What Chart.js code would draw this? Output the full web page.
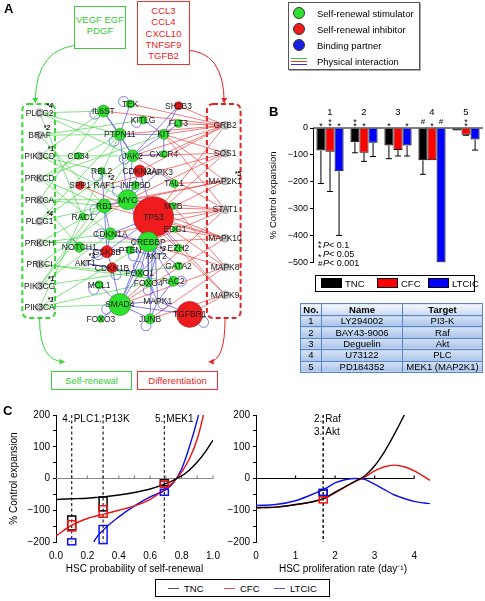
<!DOCTYPE html>
<html>
<head>
<meta charset="utf-8">
<title>Self-renewal network and inhibitor screen</title>
<script src="https://cdn.jsdelivr.net/npm/chart.js@4.4.1/dist/chart.umd.min.js"></script>
<style>
  body { margin: 0; background: #fff; font-family: "Liberation Sans", Arial, sans-serif; }
  #page { position: relative; width: 485px; height: 601px; overflow: hidden; }
  canvas { position: absolute; }
  .panel { position: absolute; font-weight: bold; font-size: 13px; }
  .tbox { position: absolute; box-sizing: border-box; text-align: center; font-size: 9.5px; line-height: 11.3px; background: #fff; }
  #netLegend { position: absolute; left: 288px; top: 2px; width: 132px; height: 68px; box-sizing: border-box;
    border: 1px solid #555; box-shadow: 1px 1px 0 #aaa; background: #fff; font-size: 9.5px; }
  #netLegend .li { position: absolute; left: 28px; white-space: nowrap; }
  #netLegend .dot { position: absolute; left: -24px; top: -1px; width: 12px; height: 12px; border-radius: 50%; border: 1px solid #333; box-sizing: border-box; }
  #netLegend .pi { position: absolute; left: -26px; top: 2px; width: 16px; }
  #netLegend .pi i { display: block; height: 1px; margin-bottom: 2px; }
  #barLegend { position: absolute; left: 315px; top: 275px; width: 160px; height: 17px; box-sizing: border-box; border: 1px solid #000; font-size: 9.5px; }
  #barLegend span { position: absolute; top: 2px; white-space: nowrap; }
  #barLegend b { display: inline-block; width: 21px; height: 10px; border: 1px solid #000; box-sizing: border-box; vertical-align: -1px; margin-right: 3px; }
  #drugTable { position: absolute; left: 300px; top: 303px; width: 183px; border-collapse: collapse; font-size: 9.5px; }
  #drugTable td, #drugTable th { border: 1px solid #5a86c6; padding: 0; height: 10.4px; line-height: 10px; text-align: center;
    background: linear-gradient(#d4e2f5, #a9c3ea); font-weight: normal; }
  #drugTable th { font-weight: bold; background: linear-gradient(#f5f8fd, #c8d9f1); height: 11px; }
  #lineLegend { position: absolute; left: 155px; top: 579px; width: 175px; height: 18px; box-sizing: border-box; border: 1px solid #000; font-size: 9.5px; }
  #lineLegend span { position: absolute; top: 3px; white-space: nowrap; }
  #lineLegend i { display: inline-block; width: 11px; height: 1.5px; vertical-align: 3px; margin-right: 5px; }
</style>
</head>
<body>
<div id="page">
  <canvas id="netChart" width="300" height="395" style="left:0;top:0"></canvas>
  <div class="panel" style="left:4px;top:1px">A</div>
  <div class="tbox" style="left:74px;top:6px;width:52px;height:43px;border:1px solid #3ccf3c;color:#33cc33;padding-top:7px">VEGF EGF<br>PDGF</div>
  <div class="tbox" style="left:137px;top:1px;width:53px;height:64px;border:1px solid #e33;color:#e22;padding-top:3px">CCL3<br>CCL4<br>CXCL10<br>TNFSF9<br>TGFB2</div>
  <div class="tbox" style="left:51px;top:371px;width:81px;height:19px;border:1px solid #3ccf3c;color:#33cc33;padding-top:3px">Self-renewal</div>
  <div class="tbox" style="left:137px;top:371px;width:81px;height:19px;border:1px solid #e33;color:#e22;padding-top:3px">Differentiation</div>
  <div id="netLegend">
    <div class="li" style="top:5px"><span class="dot" style="background:#2fe02f"></span>Self-renewal stimulator</div>
    <div class="li" style="top:21px"><span class="dot" style="background:#ee1c1c"></span>Self-renewal inhibitor</div>
    <div class="li" style="top:37px"><span class="dot" style="background:#1c1ce8"></span>Binding partner</div>
    <div class="li" style="top:53px"><span class="pi"><i style="background:#3c3"></i><i style="background:#e33"></i><i style="background:#33d"></i></span>Physical interaction</div>
  </div>

  <canvas id="barChart" width="223" height="185" style="left:262px;top:85px"></canvas>
  <div class="panel" style="left:269px;top:104px">B</div>
  <div id="barLegend">
    <span style="left:5px"><b style="background:#000"></b>TNC</span>
    <span style="left:61px"><b style="background:#f00"></b>CFC</span>
    <span style="left:112px"><b style="background:#00f"></b>LTCIC</span>
  </div>
  <table id="drugTable"><thead><tr><th style="width:20px">No.</th><th style="width:80px">Name</th><th>Target</th></tr></thead><tbody></tbody></table>

  <canvas id="srChart" width="225" height="180" style="left:0;top:395px"></canvas>
  <canvas id="prChart" width="270" height="180" style="left:215px;top:395px"></canvas>
  <div class="panel" style="left:3px;top:403px">C</div>
  <div id="lineLegend">
    <span style="left:12px"><i style="background:#555"></i>TNC</span>
    <span style="left:68px"><i style="background:#e05050"></i>CFC</span>
    <span style="left:118px"><i style="background:#5a5ad8"></i>LTCIC</span>
  </div>
</div>

<script>
// ---------- Panel A : network (layout units = pixels of the panel) ----------
const leftGenes = ['PLCG2', 'BRAF', 'PIK3CD', 'PRKCD', 'PRKCA', 'PLCG1', 'PRKCH', 'PRKCI', 'PIK3CG', 'PIK3CA'];
const leftGeneY = [103, 128, 151, 176, 200, 224, 248, 272, 296, 320];
const leftGeneMark = ['*4', '*2', '*1', '', '', '*4', '', '', '*1', '*1'];
const rightGenes = ['GRB2', 'SOS1', 'MAP2K1', 'STAT1', 'MAPK10', 'MAPK8', 'MAPK9'];
const rightGeneY = [117, 148, 179, 211, 243, 275, 306];
const rightGeneMark = ['', '', '*5', '', '', '', ''];

const coreGenes = ['IL6ST', 'TEK', 'SH2B3', 'KITLG', 'FLT3', 'PTPN11', 'KIT', 'CD34', 'JAK2', 'CXCR4',
  'RBL2', 'CDKN2A', 'MAPK3', 'SPP1', 'RAF1', 'INPP5D', 'TAL1', 'RB1', 'MYC', 'MYB',
  'TP53', 'RAC1', 'EDG1', 'CDKN1A', 'CREBBP', 'NOTCH1', 'GSK3B', 'PTEN', 'EZH2', 'AKT1',
  'AKT2', 'CDKN1B', 'GATA2', 'FOXO1', 'RAC2', 'FOXO4', 'MCL1', 'SMAD4', 'MAPK1', 'TGFBR1',
  'JUNB', 'FOXO3'];
const coreX = [96, 127, 183, 142, 183, 115, 166, 67, 130, 166,
  94, 138, 160, 69, 97, 133, 178, 97, 124, 177,
  154, 72, 179, 104, 148, 68, 100, 127, 183, 75,
  157, 106, 183, 138, 177, 148, 91, 115, 159, 196,
  150, 93];
const coreY = [101, 93, 95, 111, 115, 127, 127, 151, 151, 149,
  168, 168, 169, 184, 184, 184, 182, 207, 200, 207,
  219, 219, 233, 238, 247, 253, 258, 256, 254, 271,
  263, 276, 274, 282, 291, 293, 295, 317, 313, 328,
  333, 333];
const coreSize = [6, 4, 4, 4, 4, 6, 5, 3.5, 6, 3.5,
  3.5, 6, 3, 4, 3, 4, 4, 7, 10, 3.5,
  20, 3.5, 3, 6, 10, 5, 6, 4, 4, 3,
  3, 5, 4, 4, 5, 4, 4, 11, 3, 13,
  5, 3.5];
// g = stimulator, r = inhibitor, k = binding partner / drug target
const coreKind = ['g', 'g', 'r', 'g', 'g', 'g', 'g', 'g', 'g', 'g',
  'g', 'r', 'k', 'r', 'k', 'g', 'g', 'g', 'g', 'g',
  'r', 'g', 'g', 'g', 'g', 'g', 'r', 'g', 'g', 'k',
  'k', 'r', 'g', 'g', 'g', 'g', 'g', 'g', 'k', 'r',
  'g', 'g'];
const coreMark = { RAF1: '*2', AKT1: '*3', AKT2: '*3' };

const greenEdges = ['PLCG2 IL6ST', 'PLCG2 PTPN11', 'PLCG2 JAK2', 'PLCG2 RAC1', 'BRAF PTPN11', 'BRAF RB1', 'BRAF KITLG',
  'PIK3CD IL6ST', 'PIK3CD JAK2', 'PIK3CD MYC', 'PIK3CD RBL2', 'PRKCD PTPN11', 'PRKCD RB1', 'PRKCD CDKN1A', 'PRKCD KIT',
  'PRKCA RB1', 'PRKCA MYC', 'PRKCA IL6ST', 'PRKCA NOTCH1', 'PLCG1 JAK2', 'PLCG1 RB1', 'PLCG1 PTPN11',
  'PRKCH RB1', 'PRKCH CDKN1A', 'PRKCH CREBBP', 'PRKCI MYC', 'PRKCI FOXO1', 'PRKCI RAC2', 'PIK3CG RB1',
  'PIK3CG CDKN1A', 'PIK3CG JAK2', 'PIK3CG GATA2', 'PIK3CA FOXO4', 'PIK3CA SMAD4', 'PIK3CA PTPN11', 'PIK3CA CREBBP'];
const redEdges = ['GRB2 TEK', 'GRB2 SH2B3', 'GRB2 KIT', 'GRB2 FLT3', 'GRB2 PTPN11', 'GRB2 IL6ST', 'GRB2 JAK2', 'GRB2 CXCR4',
  'GRB2 TP53', 'GRB2 CDKN2A', 'SOS1 KIT', 'SOS1 MYC', 'SOS1 JAK2', 'SOS1 TP53', 'SOS1 RAF1', 'MAP2K1 TP53', 'MAP2K1 MYC',
  'MAP2K1 TAL1', 'MAP2K1 RB1', 'MAP2K1 KIT', 'STAT1 TP53', 'STAT1 MYC', 'STAT1 JAK2', 'STAT1 KIT', 'STAT1 CREBBP',
  'STAT1 SMAD4', 'STAT1 CDKN1A', 'STAT1 RB1', 'MAPK10 TP53', 'MAPK10 MYC', 'MAPK10 CREBBP', 'MAPK10 EDG1',
  'MAPK10 SMAD4', 'MAPK10 RB1', 'MAPK8 TP53', 'MAPK8 MYB', 'MAPK8 JUNB', 'MAPK8 SMAD4', 'MAPK8 CDKN1A',
  'MAPK9 TGFBR1', 'MAPK9 JUNB', 'MAPK9 TP53', 'MAPK9 MYC', 'TP53 SPP1'];
const blueEdges = ['IL6ST PTPN11', 'IL6ST JAK2', 'TEK PTPN11', 'KITLG KIT', 'KIT PTPN11', 'KIT FLT3', 'KIT JAK2',
  'SH2B3 KIT', 'SH2B3 JAK2', 'JAK2 PTPN11', 'JAK2 CXCR4', 'CXCR4 KIT', 'RBL2 RB1', 'CDKN2A TP53', 'CDKN2A MYC',
  'MAPK3 TAL1', 'MAPK3 MYC', 'INPP5D MYC', 'RB1 MYC', 'RB1 CDKN1A', 'MYC TP53', 'MYC CREBBP', 'TP53 CREBBP',
  'TP53 MYB', 'TP53 EZH2', 'TP53 CDKN1A', 'TP53 PTEN', 'TP53 GSK3B', 'TP53 AKT2', 'TP53 MAPK1', 'TP53 SMAD4',
  'TP53 JUNB', 'CREBBP SMAD4', 'CREBBP FOXO1', 'CREBBP FOXO4', 'CREBBP GATA2', 'CREBBP MYB', 'CREBBP RAC2',
  'GSK3B AKT1', 'GSK3B PTEN', 'GSK3B CDKN1B', 'NOTCH1 GSK3B', 'AKT1 CDKN1B', 'AKT2 FOXO1', 'AKT2 FOXO4',
  'AKT1 FOXO1', 'MCL1 SMAD4', 'SMAD4 FOXO3', 'SMAD4 JUNB', 'SMAD4 MAPK1', 'SMAD4 TGFBR1', 'MAPK1 JUNB',
  'MAPK1 FOXO4', 'RAC2 MAPK1', 'PTEN AKT2', 'CDKN1A CREBBP', 'RB1 GSK3B', 'MYB MYC', 'CDKN1A GSK3B',
  'PTPN11 MYC', 'JAK2 MYC', 'FOXO1 SMAD4', 'MAPK1 TGFBR1', 'CDKN1B SMAD4'];
const loopGenes = ['IL6ST', 'TEK', 'KITLG', 'PTPN11', 'JAK2', 'RB1', 'MYC', 'CDKN1A', 'NOTCH1', 'GSK3B', 'CREBBP',
  'SMAD4', 'TGFBR1', 'JUNB', 'FOXO1', 'FOXO4', 'MAPK1', 'RBL2', 'MCL1', 'PTEN', 'RAC2', 'CDKN1B'];
const loopAngle = [200, 160, 200, 230, 200, 200, 140, 180, 160, 200, 320,
  200, 330, 240, 100, 270, 330, 230, 220, 300, 0, 300];

// ---------- Panel B : inhibitor effect on expansion ----------
const drugNumbers = ['1', '2', '3', '4', '5'];
const tncMean = [-84, -53, -65, -120, -9];
const cfcMean = [-88, -92, -82, -120, -25];
const ltcicMean = [-161, -55, -65, -500, -43];
const tncLow = [-206, -92, -114, -172, null];
const cfcLow = [-236, -124, -104, null, -27];
const ltcicLow = [-399, -106, -104, null, -82];
const tncSig = ['*', '**', '*', '#', ''];
const cfcSig = ['**', '*', '', '*', '**'];
const ltcicSig = ['*', '', '*', '#', ''];
const sigKey = ['**', '*', '#'];
const sigText = ['< 0.1', '< 0.05', '< 0.001'];

const drugNames = ['LY294002', 'BAY43-9006', 'Deguelin', 'U73122', 'PD184352'];
const drugTargets = ['PI3-K', 'Raf', 'Akt', 'PLC', 'MEK1 (MAP2K1)'];

// ---------- Panel C : model curves ----------
const srProb = [0, 0.1, 0.2, 0.25, 0.3, 0.4, 0.5, 0.6, 0.7, 0.75, 0.8, 0.85, 0.9, 0.95, 1.0];
const srTNC = [-66, -64, -62, -60, -58, -52, -44, -33, -16, -5, 8, 27, 52, 83, 121];
const srCFC = [-181, -147, -126, -119, -113, -100, -86, -66, -30, -10, 20, 62, 125, 225, 360];
const srLTCIC = [null, null, -250, -192, -163, -121, -86, -58, -35, -12, 30, 100, 185, 290, 420];
const srDrugX = [0.1, 0.3, 0.69];
const srDrugNum = ['4.', '1.', '5.'];
const srDrugName = ['PLC', 'P13K', 'MEK1'];
const srTncLo = [-162, -102, -22], srTncHi = [-118, -58, -4];
const srCfcLo = [-165, -122, -26], srCfcHi = [-133, -86, -9];
const srLtcicLo = [-200, -205, -44], srLtcicHi = [-190, -148, -34];

const prRate = [0, 0.5, 1, 1.5, 1.75, 2, 2.25, 2.5, 2.75, 3, 3.25, 3.5, 3.75, 4, 4.25, 4.4];
const prTNC = [-92, -90, -82, -71, -61, -43, -26, -9, 8, 40, 85, 140, 200, 265, 335, 380];
const prCFC = [-92, -90, -83, -72, -62, -45, -27, -10, 5, 24, 37, 42, 37, 24, 6, -6];
const prLTCIC = [-85, -82, -70, -46, -32, -14, -4, 0, -3, -18, -35, -52, -63, -72, -77, -79];
const prDrugX = [1.7, 1.7];
const prDrugNum = ['2.', '3.'];
const prDrugName = ['Raf', 'Akt'];
const prTncLo = [-44], prTncHi = [-36];
const prCfcLo = [-66], prCfcHi = [-58];
const prLtcicLo = [-42], prLtcicHi = [-34];

const FONT = '"Liberation Sans", Arial, sans-serif';
Chart.defaults.font.family = FONT;
Chart.defaults.color = '#000';
Chart.defaults.animation = false;
Chart.defaults.responsive = false;
Chart.defaults.plugins.legend.display = false;
Chart.defaults.plugins.tooltip.enabled = false;

const fmtNum = v => (v < 0 ? '\u2212' + Math.abs(v) : String(v));
const kindFill = { g: '#2fe02f', r: '#ee1c1c', k: '#c4c4c4' };
const kindLine = { g: '#1f9a1f', r: '#a01010', k: '#999' };

// positions of every gene in the layout
const genePos = {};
leftGenes.forEach((g, i) => { genePos[g] = { x: 22, y: leftGeneY[i], r: 4, kind: 'k', mark: leftGeneMark[i] }; });
rightGenes.forEach((g, i) => { genePos[g] = { x: 237, y: rightGeneY[i], r: 4, kind: 'k', mark: rightGeneMark[i] }; });
coreGenes.forEach((g, i) => {
  genePos[g] = { x: coreX[i], y: coreY[i], r: coreSize[i], kind: coreKind[i], mark: coreMark[g] || '' };
});

function edgeData(list) {
  const pts = [];
  list.forEach(e => {
    const [a, b] = e.split(' ');
    const p = genePos[a], q = genePos[b];
    pts.push({ x: p.x, y: p.y }, { x: q.x, y: q.y }, { x: q.x, y: null });
  });
  return pts;
}

const nodeList = Object.keys(genePos);

const networkDecor = {
  id: 'networkDecor',
  beforeDatasetsDraw(chart) {
    const { ctx, scales: { x, y } } = chart;
    const X = v => x.getPixelForValue(v), Y = v => y.getPixelForValue(v);
    ctx.save();
    // dashed group boxes
    function dashBox(x0, y0, x1, y1, color) {
      ctx.strokeStyle = color; ctx.lineWidth = 2; ctx.setLineDash([5, 3]);
      ctx.beginPath();
      ctx.roundRect(X(x0), Y(y0), X(x1) - X(x0), Y(y1) - Y(y0), 6);
      ctx.stroke();
      ctx.setLineDash([]);
    }
    dashBox(2, 93, 40, 332, '#35d735');
    dashBox(216, 93, 255, 332, '#e52020');
    // curved arrows
    function arrow(x0, y0, cx, cy, x1, y1, color, dir) {
      ctx.strokeStyle = color; ctx.fillStyle = color; ctx.lineWidth = 1;
      ctx.beginPath(); ctx.moveTo(X(x0), Y(y0)); ctx.quadraticCurveTo(X(cx), Y(cy), X(x1), Y(y1)); ctx.stroke();
      const h = 5, w = 3, px = X(x1), py = Y(y1);
      ctx.beginPath();
      if (dir === 'down') { ctx.moveTo(px, py); ctx.lineTo(px - w, py - h); ctx.lineTo(px + w, py - h); }
      if (dir === 'right') { ctx.moveTo(px, py); ctx.lineTo(px - h, py - w); ctx.lineTo(px - h, py + w); }
      if (dir === 'left') { ctx.moveTo(px, py); ctx.lineTo(px + h, py - w); ctx.lineTo(px + h, py + w); }
      ctx.closePath(); ctx.fill();
    }
    arrow(74, 27, 17, 27, 17, 92, '#35d735', 'down');
    arrow(190, 33, 236, 33, 236, 92, '#e52020', 'down');
    arrow(22, 333, 22, 381, 51, 381, '#35d735', 'right');
    arrow(237, 333, 237, 381, 218, 381, '#e52020', 'left');
    // self interaction loops
    ctx.strokeStyle = '#4a4ae0'; ctx.lineWidth = 0.7;
    loopGenes.forEach((g, i) => {
      const p = genePos[g], a = loopAngle[i] * Math.PI / 180, d = p.r + 3;
      ctx.beginPath();
      ctx.arc(X(p.x) + Math.cos(a) * d, Y(p.y) - Math.sin(a) * d, 5, 0, Math.PI * 2);
      ctx.stroke();
    });
    ctx.restore();
  },
  afterDatasetsDraw(chart) {
    const { ctx, scales: { x, y } } = chart;
    ctx.save();
    ctx.textAlign = 'center'; ctx.textBaseline = 'middle';
    nodeList.forEach(g => {
      const p = genePos[g];
      const px = x.getPixelForValue(p.x), py = y.getPixelForValue(p.y);
      ctx.font = '8.5px ' + FONT; ctx.fillStyle = '#1a1a1a';
      ctx.fillText(g, px, py + 0.5);
      if (p.mark) {
        const w = ctx.measureText(g).width;
        ctx.font = 'italic bold 7px ' + FONT;
        ctx.fillText(p.mark, px + w / 2 - 4, py - 7);
      }
    });
    ctx.restore();
  }
};

new Chart(document.getElementById('netChart'), {
  type: 'bubble',
  data: {
    datasets: [
      {
        type: 'bubble', order: 0,
        data: nodeList.map(g => ({ x: genePos[g].x, y: genePos[g].y, r: genePos[g].r })),
        backgroundColor: nodeList.map(g => kindFill[genePos[g].kind]),
        borderColor: nodeList.map(g => kindLine[genePos[g].kind]),
        borderWidth: 0.6
      },
      { type: 'line', order: 1, data: edgeData(blueEdges), borderColor: '#4a4ae0', borderWidth: 0.7, pointRadius: 0, spanGaps: false },
      { type: 'line', order: 2, data: edgeData(redEdges), borderColor: '#ec4646', borderWidth: 0.7, pointRadius: 0, spanGaps: false },
      { type: 'line', order: 3, data: edgeData(greenEdges), borderColor: '#4cd64c', borderWidth: 0.7, pointRadius: 0, spanGaps: false }
    ]
  },
  options: {
    layout: { padding: 0 },
    scales: {
      x: { type: 'linear', min: 0, max: 300, display: false },
      y: { type: 'linear', min: 0, max: 395, reverse: true, display: false }
    }
  },
  plugins: [networkDecor]
});

// ---------- Panel B chart ----------
function drawStar(ctx, sym, px, base) {
  if (sym === '**') {
    ctx.fillText('*', px, base - 4);
    ctx.fillText('*', px, base);
  } else {
    ctx.fillText(sym, px, base);
  }
}

const barExtras = {
  id: 'barExtras',
  afterDatasetsDraw(chart) {
    const { ctx, chartArea: a, scales: { y } } = chart;
    ctx.save();
    ctx.strokeStyle = '#000'; ctx.lineWidth = 1;
    const y0 = y.getPixelForValue(0);
    ctx.beginPath(); ctx.moveTo(a.left, y0); ctx.lineTo(a.right, y0); ctx.stroke();
    const lows = [tncLow, cfcLow, ltcicLow];
    const sigs = [tncSig, cfcSig, ltcicSig];
    ctx.textAlign = 'center'; ctx.textBaseline = 'alphabetic'; ctx.fillStyle = '#000';
    lows.forEach((low, d) => {
      chart.getDatasetMeta(d).data.forEach((bar, i) => {
        if (low[i] !== null) {
          const yl = y.getPixelForValue(low[i]);
          ctx.beginPath();
          ctx.moveTo(bar.x, bar.y); ctx.lineTo(bar.x, yl);
          ctx.moveTo(bar.x - 3, yl); ctx.lineTo(bar.x + 3, yl);
          ctx.stroke();
        }
        const s = sigs[d][i];
        if (s) {
          ctx.font = (s === '#' ? '8px ' : '9px ') + FONT;
          drawStar(ctx, s, bar.x, s === '#' ? a.top - 4 : a.top + 1);
        }
      });
    });
    ctx.font = '9.5px ' + FONT;
    chart.getDatasetMeta(1).data.forEach((bar, i) => ctx.fillText(drugNumbers[i], bar.x, a.top - 13));
    // significance key
    ctx.textAlign = 'left';
    sigKey.forEach((s, k) => {
      const base = a.bottom - 15 + k * 9;
      ctx.font = (s === '#' ? '8px ' : '9px ') + FONT;
      drawStar(ctx, s, a.left + 5, s === '#' ? base : base + 3);
      ctx.font = 'italic 9px ' + FONT;
      ctx.fillText('P', a.left + 10, base);
      const w = ctx.measureText('P').width;
      ctx.font = '9px ' + FONT;
      ctx.fillText(sigText[k], a.left + 10 + w, base);
    });
    ctx.restore();
  }
};

new Chart(document.getElementById('barChart'), {
  type: 'bar',
  data: {
    labels: drugNumbers,
    datasets: [
      { label: 'TNC', data: tncMean, backgroundColor: '#000', borderColor: '#000', borderWidth: 1 },
      { label: 'CFC', data: cfcMean, backgroundColor: '#ff0000', borderColor: '#000', borderWidth: 1 },
      { label: 'LTCIC', data: ltcicMean, backgroundColor: '#0000ff', borderColor: '#000', borderWidth: 1 }
    ]
  },
  options: {
    layout: { padding: { top: 43, bottom: 6, right: 2, left: 0 } },
    datasets: { bar: { categoryPercentage: 0.8, barPercentage: 1 } },
    scales: {
      x: { display: false },
      y: {
        min: -500, max: 0,
        ticks: { stepSize: 50, font: { size: 9 }, padding: 2, callback: v => (v % 100 === 0 ? fmtNum(v) : '') },
        grid: { drawOnChartArea: false, tickLength: 3, color: '#000' },
        border: { color: '#000' },
        title: { display: true, text: '% Control expansion', font: { size: 9.5 }, padding: { top: 6, bottom: 0 } },
        afterFit: s => { s.width = 51; }
      }
    }
  },
  plugins: [barExtras]
});

// table
const tbody = document.querySelector('#drugTable tbody');
drugNames.forEach((name, i) => {
  const tr = document.createElement('tr');
  [drugNumbers[i], name, drugTargets[i]].forEach(t => {
    const td = document.createElement('td');
    td.textContent = t;
    tr.appendChild(td);
  });
  tbody.appendChild(tr);
});

// ---------- Panel C charts ----------
const responseMarks = {
  id: 'responseMarks',
  beforeDatasetsDraw(chart, args, o) {
    const { ctx, chartArea: a, scales: { x, y } } = chart;
    ctx.save();
    const y0 = y.getPixelForValue(0);
    ctx.strokeStyle = o.zeroColor; ctx.lineWidth = 1.2;
    ctx.beginPath();
    ctx.moveTo(a.left, y0); ctx.lineTo(x.getPixelForValue(o.zeroEnd), y0);
    for (let t = o.zeroTick; t <= o.zeroEnd + 1e-9; t += o.zeroTick) {
      const px = x.getPixelForValue(t);
      ctx.moveTo(px, y0); ctx.lineTo(px, y0 - 3);
    }
    ctx.stroke();
    // dashed inhibitor lines and labels
    ctx.strokeStyle = '#222'; ctx.lineWidth = 1.2; ctx.setLineDash([3, 2.5]);
    o.dashX.forEach(v => {
      const px = x.getPixelForValue(v);
      ctx.beginPath(); ctx.moveTo(px, a.top); ctx.lineTo(px, a.bottom); ctx.stroke();
    });
    ctx.setLineDash([]);
    ctx.font = '10px ' + FONT; ctx.fillStyle = '#000'; ctx.textBaseline = 'middle';
    const rows = {};
    o.dashX.forEach((v, i) => {
      const px = x.getPixelForValue(v);
      const row = rows[v] || 0; rows[v] = row + 1;
      const py = a.top + 4 + row * 13;
      ctx.textAlign = 'right'; ctx.fillText(o.nums[i], px - 1, py);
      ctx.textAlign = 'left'; ctx.fillText(o.names[i], px + 2, py);
    });
    ctx.restore();
  },
  afterDatasetsDraw(chart, args, o) {
    const { ctx, scales: { x, y } } = chart;
    ctx.save();
    ctx.lineWidth = 1.5;
    o.boxes.forEach(b => {
      ctx.strokeStyle = b.color;
      o.markX.forEach((v, i) => {
        const px = x.getPixelForValue(v);
        const top = y.getPixelForValue(b.hi[i]);
        const bot = Math.max(y.getPixelForValue(b.lo[i]), top + 6);
        ctx.strokeRect(px - 4, top, 8, bot - top);
      });
    });
    ctx.restore();
  }
};

function curveSet(xs, ys, color) {
  return {
    data: xs.map((v, i) => ({ x: v, y: ys[i] })),
    borderColor: color, borderWidth: 1.4, pointRadius: 0,
    cubicInterpolationMode: 'monotone', spanGaps: false
  };
}

function axisY(width) {
  return {
    min: -200, max: 200,
    ticks: { stepSize: 50, font: { size: 10 }, padding: 3, callback: v => (v % 100 === 0 ? fmtNum(v) : '') },
    grid: { drawOnChartArea: false, tickLength: 3, color: '#000' },
    border: { color: '#000' },
    afterFit: s => { s.width = width; }
  };
}

const srY = axisY(56);
srY.title = { display: true, text: '% Control expansion', font: { size: 10 }, padding: { top: 8, bottom: 0 } };

new Chart(document.getElementById('srChart'), {
  type: 'line',
  data: {
    datasets: [
      curveSet(srProb, srTNC, '#000'),
      curveSet(srProb, srCFC, '#f01010'),
      curveSet(srProb, srLTCIC, '#1010ee')
    ]
  },
  options: {
    layout: { padding: { top: 20, right: 12, left: 0, bottom: 0 } },
    scales: {
      x: {
        type: 'linear', min: 0, max: 1,
        ticks: { stepSize: 0.2, font: { size: 10 }, padding: 0, callback: v => v.toFixed(1) },
        grid: { display: false }, border: { display: false },
        title: { display: true, text: 'HSC probability of self-renewal', font: { size: 10 }, padding: { top: 2, bottom: 0 } },
        afterFit: s => { s.height = 33; }
      },
      y: srY
    },
    plugins: {
      responseMarks: {
        zeroColor: '#888', zeroEnd: 1, zeroTick: 0.1,
        dashX: srDrugX, nums: srDrugNum, names: srDrugName,
        markX: srDrugX,
        boxes: [
          { lo: srTncLo, hi: srTncHi, color: '#000' },
          { lo: srCfcLo, hi: srCfcHi, color: '#f01010' },
          { lo: srLtcicLo, hi: srLtcicHi, color: '#1010ee' }
        ]
      }
    }
  },
  plugins: [responseMarks]
});

new Chart(document.getElementById('prChart'), {
  type: 'line',
  data: {
    datasets: [
      curveSet(prRate, prTNC, '#000'),
      curveSet(prRate, prCFC, '#f01010'),
      curveSet(prRate, prLTCIC, '#1010ee')
    ]
  },
  options: {
    layout: { padding: { top: 20, right: 55, left: 0, bottom: 0 } },
    scales: {
      x: {
        type: 'linear', min: 0, max: 4.4,
        ticks: { stepSize: 1, includeBounds: false, font: { size: 10 }, padding: 0, callback: v => (Number.isInteger(v) ? String(v) : '') },
        grid: { display: false }, border: { display: false },
        title: { display: true, text: 'HSC proliferation rate (day\u207B\u00B9)', font: { size: 10 }, padding: { top: 2, bottom: 0 } },
        afterFit: s => { s.height = 33; }
      },
      y: axisY(41)
    },
    plugins: {
      responseMarks: {
        zeroColor: '#000', zeroEnd: 4, zeroTick: 1,
        dashX: prDrugX, nums: prDrugNum, names: prDrugName,
        markX: [1.7],
        boxes: [
          { lo: prTncLo, hi: prTncHi, color: '#000' },
          { lo: prCfcLo, hi: prCfcHi, color: '#f01010' },
          { lo: prLtcicLo, hi: prLtcicHi, color: '#1010ee' }
        ]
      }
    }
  },
  plugins: [responseMarks]
});
</script>
</body>
</html>
